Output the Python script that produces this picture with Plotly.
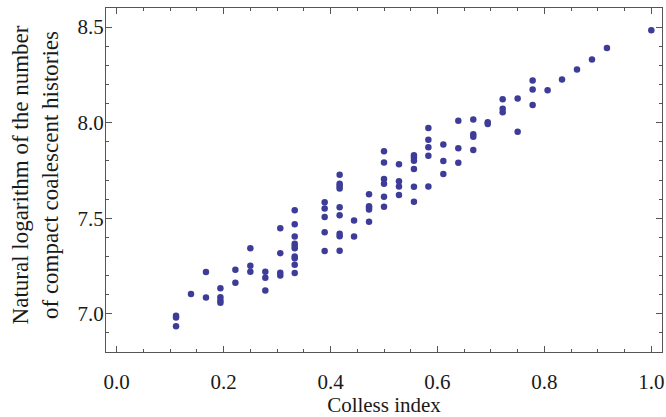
import plotly.graph_objects as go

# Colless index (x) and ln(number of compact coalescent histories) (y)
colless_index = (
    [0.111] * 3 + [0.139] + [0.167] * 2 + [0.194] * 4 + [0.222] * 2 + [0.25] * 3 +
    [0.278] * 3 + [0.306] * 4 + [0.333] * 10 + [0.389] * 5 + [0.417] * 9 +
    [0.444] * 2 + [0.472] * 5 + [0.5] * 6 + [0.528] * 4 + [0.556] * 6 +
    [0.583] * 5 + [0.611] * 3 + [0.639] * 3 + [0.667] * 4 + [0.694] * 2 +
    [0.722] * 3 + [0.75] * 2 + [0.778] * 3 + [0.806] + [0.833] + [0.861] +
    [0.889] + [0.917] + [1.0]
)
log_histories = [
    6.99, 6.98, 6.935,
    7.103,
    7.218, 7.085,
    7.134, 7.087, 7.070, 7.058,
    7.230, 7.162,
    7.343, 7.251, 7.220,
    7.220, 7.188, 7.122,
    7.448, 7.317, 7.215, 7.200,
    7.542, 7.469, 7.405, 7.366, 7.354, 7.343, 7.300, 7.291, 7.257, 7.213,
    7.583, 7.551, 7.506, 7.427, 7.328,
    7.728, 7.681, 7.668, 7.656, 7.557, 7.516, 7.419, 7.406, 7.330,
    7.488, 7.405,
    7.626, 7.563, 7.555, 7.545, 7.482,
    7.850, 7.792, 7.705, 7.681, 7.613, 7.560,
    7.782, 7.694, 7.666, 7.621,
    7.830, 7.817, 7.801, 7.757, 7.665, 7.586,
    7.972, 7.911, 7.872, 7.827, 7.666,
    7.886, 7.799, 7.731,
    8.010, 7.866, 7.790,
    8.017, 7.940, 7.926, 7.857,
    8.002, 7.993,
    8.122, 8.073, 8.055,
    8.127, 7.953,
    8.220, 8.174, 8.092,
    8.169,
    8.226,
    8.278,
    8.330,
    8.391,
    8.483,
]

x_tick_vals = [0.0, 0.2, 0.4, 0.6, 0.8, 1.0]
x_tick_text = ["0.0", "0.2", "0.4", "0.6", "0.8", "1.0"]
y_tick_vals = [7.0, 7.5, 8.0, 8.5]
y_tick_text = ["7.0", "7.5", "8.0", "8.5"]

x_title = "Colless index"
y_title = "Natural logarithm of the number<br>of compact coalescent histories"

font_family = "Liberation Serif, Times New Roman, serif"
frame_color = "#555555"

fig = go.Figure(
    go.Scatter(
        x=colless_index,
        y=log_histories,
        mode="markers",
        marker=dict(size=6.5, color="rgb(61,61,153)", line=dict(width=0)),
        showlegend=False,
    )
)

fig.update_layout(
    width=666,
    height=417,
    margin=dict(l=106, r=4, t=8, b=65),
    paper_bgcolor="white",
    plot_bgcolor="white",
    font=dict(family=font_family, size=21, color="#1a1a1a"),
    xaxis=dict(
        range=[-0.02, 1.02],
        tickvals=x_tick_vals,
        ticktext=x_tick_text,
        ticks="inside",
        ticklen=6,
        tickcolor=frame_color,
        showline=True,
        linecolor=frame_color,
        linewidth=1,
        mirror="allticks",
        showgrid=False,
        zeroline=False,
        automargin=False,
        minor=dict(ticks="inside", dtick=0.05, tick0=0, ticklen=3, tickcolor=frame_color),
        ticklabelstandoff=11,
        tickfont=dict(size=21),
        title=dict(text=x_title, font=dict(size=21), standoff=8),
    ),
    yaxis=dict(
        range=[6.8, 8.6],
        tickvals=y_tick_vals,
        ticktext=y_tick_text,
        ticks="inside",
        ticklen=6,
        tickcolor=frame_color,
        showline=True,
        linecolor=frame_color,
        linewidth=1,
        mirror="allticks",
        showgrid=False,
        zeroline=False,
        automargin=False,
        minor=dict(ticks="inside", dtick=0.1, tick0=6.8, ticklen=3, tickcolor=frame_color),
        ticklabelstandoff=-3,
        tickfont=dict(size=21),
    ),
    annotations=[
        dict(
            text=y_title,
            xref="paper",
            yref="paper",
            x=-0.126,
            y=0.516,
            xanchor="center",
            yanchor="middle",
            textangle=-90,
            showarrow=False,
            font=dict(size=23),
        )
    ],
)

fig.write_html(
    "out.html",
    config={"displayModeBar": False},
    post_script="document.body.style.margin='0';document.body.style.overflow='hidden';",
)
